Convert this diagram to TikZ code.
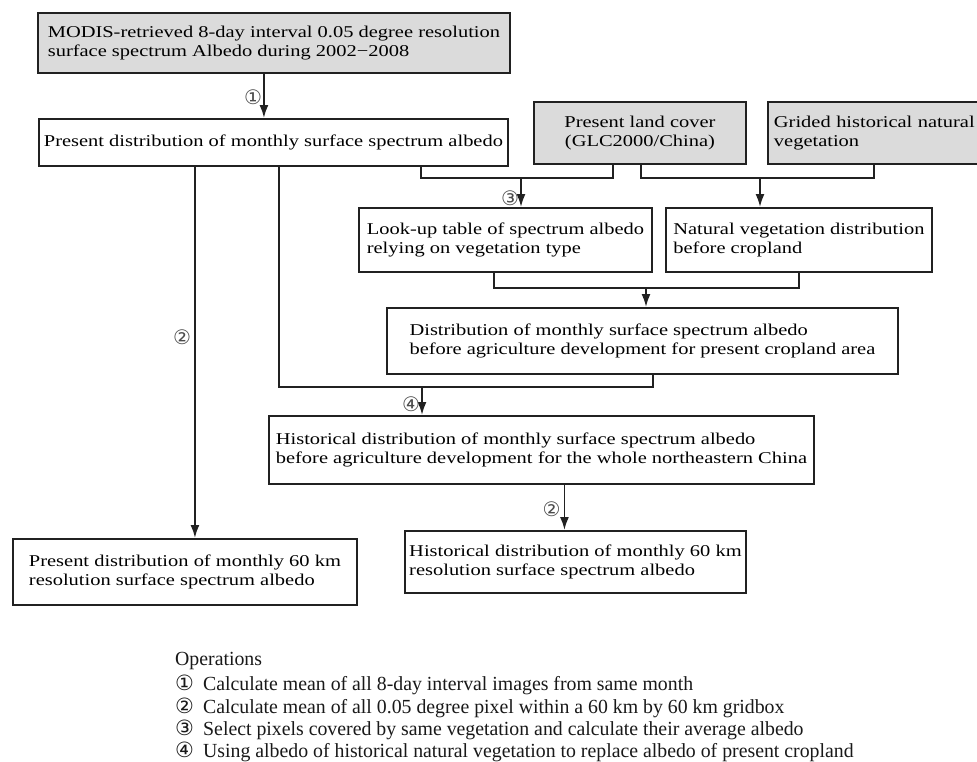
\documentclass[tikz,border=0pt]{standalone}
\usepackage{fontspec}
\setmainfont{Liberation Serif}
\newfontfamily\boxfont{Liberation Serif}[FakeStretch=1.24]
\newfontfamily\legfont{Liberation Serif}[FakeStretch=0.99]
\newfontfamily\circfont{DejaVu Sans}
\usetikzlibrary{arrows.meta}

\definecolor{boxgray}{gray}{0.86}
\definecolor{linec}{gray}{0.13}

\tikzstyle{box} = [draw=linec, line width=1.9pt, anchor=north west, align=left, inner sep=0pt, text=black, font=\boxfont\fontsize{16.5}{19}\selectfont]
\tikzstyle{shaded} = [box, fill=boxgray]
\tikzstyle{link} = [draw=linec, line width=1.9pt]
\tikzstyle{arrow} = [link, -{Latex[length=13pt,width=9pt]}]
\tikzstyle{opnum} = [font=\circfont\fontsize{20}{20}\selectfont, text=black!70, inner sep=1pt]
\tikzstyle{legend} = [anchor=west, inner sep=0pt, text=black!90, font=\legfont\fontsize{20}{23}\selectfont]

\begin{document}
\begin{tikzpicture}[x=1pt, y=-1pt]
    \useasboundingbox[fill=white] (0,0) rectangle (977,761);
    % boxes
    \node[shaded, minimum width=472pt, minimum height=60pt] (modis) at (37,12) {MODIS-retrieved 8-day interval 0.05 degree resolution\\surface spectrum Albedo during 2002−2008};
    \node[box, minimum width=469pt, minimum height=47pt] (present) at (38,118) {Present distribution of monthly surface spectrum albedo};
    \node[shaded, align=center, minimum width=212pt, minimum height=62pt] (landcov) at (533,101) {Present land cover\\(GLC2000/China)};
    \node[shaded, text width=222pt, inner xsep=6pt, minimum height=62pt] (gridveg) at (767,101) {Grided historical natural\\vegetation};
    \node[box, minimum width=293pt, minimum height=64pt] (lookup) at (358,207) {Look-up table of spectrum albedo\\relying on vegetation type};
    \node[box, minimum width=266pt, minimum height=64pt] (natveg) at (665,207) {Natural vegetation distribution\\before cropland};
    \node[box, minimum width=511pt, minimum height=66pt] (cropalb) at (386,307) {Distribution of monthly surface spectrum albedo\\before agriculture development for present cropland area};
    \node[box, minimum width=545pt, minimum height=68pt] (histalb) at (268,415) {Historical distribution of monthly surface spectrum albedo\\before agriculture development for the whole northeastern China};
    \node[box, minimum width=344pt, minimum height=66pt] (pres60) at (12,538) {Present distribution of monthly 60 km\\resolution surface spectrum albedo};
    \node[box, minimum width=341pt, minimum height=62pt] (hist60) at (404,530) {Historical distribution of monthly 60 km\\resolution surface spectrum albedo};

    % junctions
    \coordinate (j3) at (521,178);
    \coordinate (j5) at (760,178);
    \coordinate (j6) at (646,288);
    \coordinate (j4) at (422,387);

    % connectors
    \draw[arrow] ([xshift=-10pt]modis.south) -- node[opnum, left, pos=0.52] (lab1) {①} ([xshift=-10pt]modis.south |- present.north);
    \draw[arrow] ([xshift=10pt]pres60.north |- present.south) -- node[opnum, left=2pt, pos=0.46] (lab2a) {②} ([xshift=10pt]pres60.north);
    \draw[link] ([xshift=383pt]present.south west) |- (j3);
    \draw[link] ([xshift=80pt]landcov.south west) |- (j3);
    \draw[arrow] (j3) -- node[opnum, left, pos=0.7] (lab3) {③} (j3 |- lookup.north);
    \draw[link] ([xshift=108pt]landcov.south west) |- (j5) -| ([xshift=107pt]gridveg.south west);
    \draw[arrow] (j5) -- (j5 |- natveg.north);
    \draw[link] ([xshift=136pt]lookup.south west) |- (j6);
    \draw[link] (natveg.south) |- (j6);
    \draw[arrow] (j6) -- (j6 |- cropalb.north);
    \draw[link] ([xshift=241pt]present.south west) |- (j4);
    \draw[link] ([xshift=267pt]cropalb.south west) |- (j4);
    \draw[arrow] (j4) -- node[opnum, left, pos=0.6] (lab4) {④} (j4 |- histalb.north);
    \draw[arrow] ([xshift=-11pt]hist60.north |- histalb.south) -- node[opnum, left=2pt, pos=0.55] (lab2b) {②} ([xshift=-11pt]hist60.north);

    % operations
    \node[legend] (optitle) at (175,661) {Operations};
    \node[legend] (op1) at (175,685) {\makebox[28pt][l]{\circfont\fontsize{21}{21}\selectfont ①}Calculate mean of all 8-day interval images from same month};
    \node[legend] (op2) at (175,708) {\makebox[28pt][l]{\circfont\fontsize{21}{21}\selectfont ②}Calculate mean of all 0.05 degree pixel within a 60 km by 60 km gridbox};
    \node[legend] (op3) at (175,730) {\makebox[28pt][l]{\circfont\fontsize{21}{21}\selectfont ③}Select pixels covered by same vegetation and calculate their average albedo};
    \node[legend] (op4) at (175,752) {\makebox[28pt][l]{\circfont\fontsize{21}{21}\selectfont ④}Using albedo of historical natural vegetation to replace albedo of present cropland};
\end{tikzpicture}
\end{document}
